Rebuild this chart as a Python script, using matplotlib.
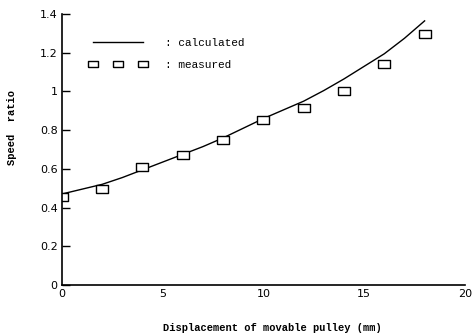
import matplotlib
matplotlib.use("Agg")
import matplotlib.pyplot as plt
from matplotlib.lines import Line2D

x_calc = [0, 1, 2, 3, 4, 5, 6, 7, 8, 9, 10, 11, 12, 13, 14, 15, 16, 17, 18]
y_calc = [0.47, 0.495, 0.52, 0.555, 0.595, 0.635, 0.675, 0.715, 0.76, 0.81,
          0.86, 0.905, 0.95, 1.005, 1.065, 1.13, 1.195, 1.275, 1.365]
x_meas = [0, 2, 4, 6, 8, 10, 12, 14, 16, 18]
y_meas = [0.455, 0.495, 0.61, 0.67, 0.75, 0.855, 0.915, 1.0, 1.14, 1.295]
x_ticks = [0, 5, 10, 15, 20]
y_ticks = [0, 0.2, 0.4, 0.6, 0.8, 1.0, 1.2, 1.4]
y_ticklabels = ["0", "0.2", "0.4", "0.6", "0.8", "1", "1.2", "1.4"]

rect = [(-1.4, -1), (1.4, -1), (1.4, 1), (-1.4, 1), (-1.4, -1)]

fig = plt.figure(figsize=(4.72, 3.36), dpi=100)
ax = fig.add_axes([0.131, 0.152, 0.854, 0.806])
ax.plot(x_calc, y_calc, color="black", lw=1.0)
ax.plot(x_meas, y_meas, linestyle="none", marker=rect, markersize=8,
        markerfacecolor="white", markeredgecolor="black", markeredgewidth=1.0)
ax.set_xlim(0, 20)
ax.set_ylim(0, 1.4)
ax.set_xticks(x_ticks)
ax.set_xticklabels([str(v) for v in x_ticks])
ax.set_yticks(y_ticks)
ax.set_yticklabels(y_ticklabels)
ax.tick_params(axis="y", direction="in", length=6, width=1, labelsize=8, pad=3)
ax.tick_params(axis="x", length=0, labelsize=8, pad=3)
for s in ["top", "right"]:
    ax.spines[s].set_visible(False)
for s in ["left", "bottom"]:
    ax.spines[s].set_linewidth(1.2)

fig.text(0.025, 0.62, "Speed  ratio", family="Liberation Mono", fontsize=7.5,
         fontweight="bold", rotation=90, ha="center", va="center")
fig.text(0.578, 0.024, "Displacement of movable pulley (mm)",
         family="Liberation Mono", fontsize=7.5, fontweight="bold",
         ha="center", va="center")

h1 = Line2D([], [], color="black", lw=1.0)
h2 = Line2D([], [], linestyle="none", marker=rect, markersize=7,
            markerfacecolor="white", markeredgecolor="black")
leg = ax.legend([h1, h2], [": calculated", ": measured"], loc="upper left",
                bbox_to_anchor=(0.069, 0.912), frameon=False, numpoints=3,
                borderpad=0, borderaxespad=0,
                handlelength=5.1, handletextpad=1.7, labelspacing=1.1,
                prop={"family": "Liberation Mono", "size": 8})

fig.savefig("out.png", dpi=100)
